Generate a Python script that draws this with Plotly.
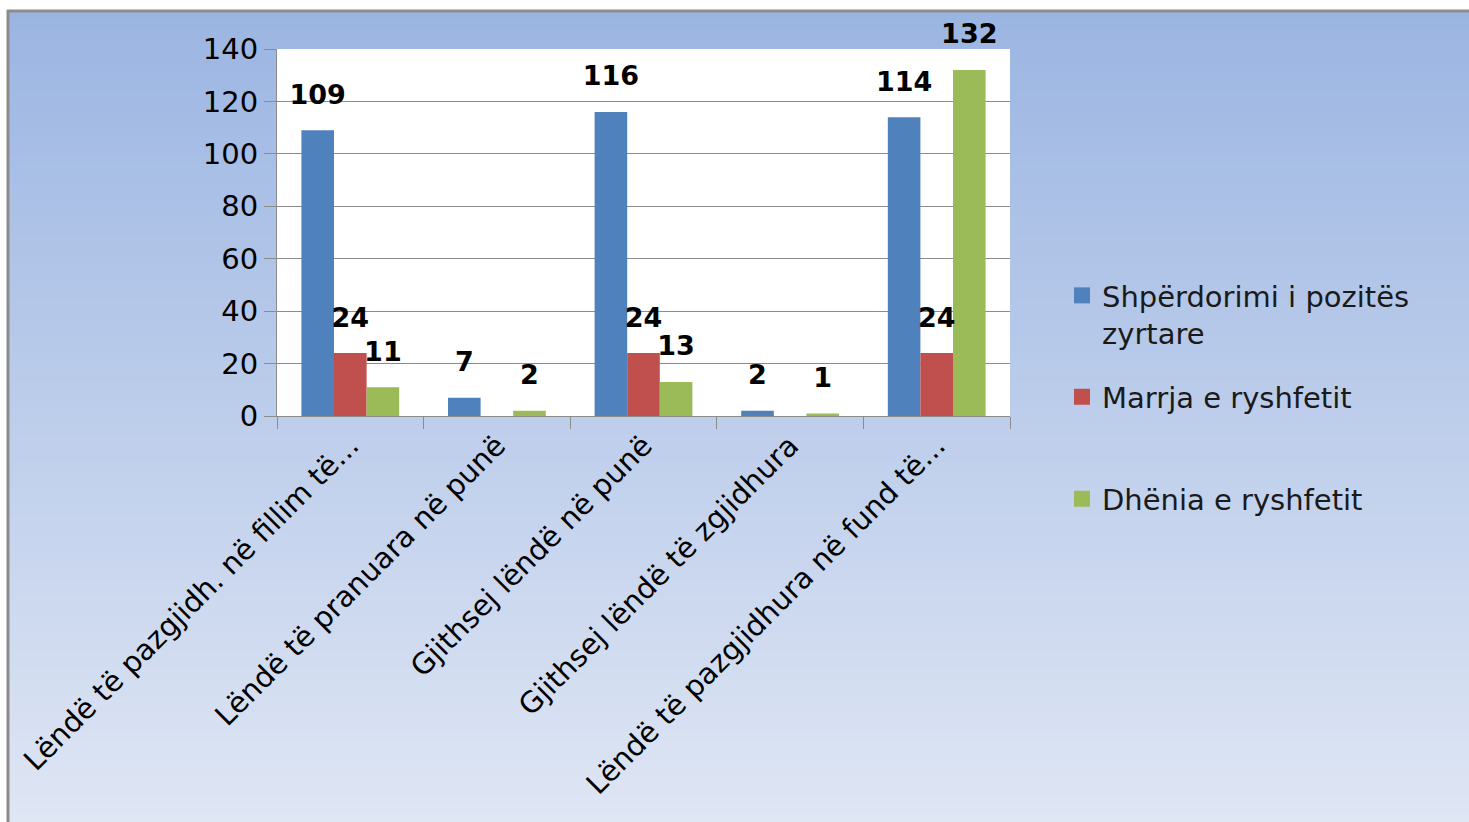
import plotly.graph_objects as go

categories = [
    "Lëndë të pazgjidh. në fillim të...",
    "Lëndë të pranuara në punë",
    "Gjithsej lëndë në punë",
    "Gjithsej lëndë të zgjidhura",
    "Lëndë të pazgjidhura në fund të...",
]
series_names = ["Shpërdorimi i pozitës<br>zyrtare", "Marrja e ryshfetit", "Dhënia e ryshfetit"]
shperdorimi = [109, 7, 116, 2, 114]
marrja = [24, None, 24, None, 24]
dhenia = [11, 2, 13, 1, 132]
y_ticks = [0, 20, 40, 60, 80, 100, 120, 140]

colors = ["#4F81BD", "#C0504D", "#9BBB59"]
W, H = 1469, 822
ML, MR, MT, MB = 277, 459, 49, 406
PW, PH = W - ML - MR, H - MT - MB


def px2x(px):
    return (px - ML) / PW


def py2y(py):
    return (H - MB - py) / PH


FONT = "DejaVu Sans"
BARGAP = 0.333

fig = go.Figure()
series = [shperdorimi, marrja, dhenia]
legends = ["legend", "legend2", "legend3"]
for name, vals, col in zip(series_names, series, colors):
    fig.add_trace(go.Bar(x=categories, y=vals, name=name, marker_color=col,
                         marker_line_width=0, showlegend=False))
for vals in series:
    fig.add_trace(go.Scatter(
        x=categories, y=vals, mode="markers+text", orientation="v",
        text=[None if v is None else str(v) for v in vals],
        textposition="top center",
        textfont=dict(family=FONT, size=27, color="black", weight="bold"),
        marker=dict(size=30, color="rgba(0,0,0,0)"),
        showlegend=False, hoverinfo="skip", cliponaxis=False))
# legend entries (square swatches) on a hidden overlay axis
for name, col, lg in zip(series_names, colors, legends):
    fig.add_trace(go.Scatter(x=[None], y=[None], mode="markers", name=name,
                             marker=dict(symbol="square", size=16, color=col),
                             legend=lg, showlegend=True, xaxis="x2", yaxis="y2"))

shapes = []
# gradient background
top_c = (155, 181, 226)
bot_c = (223, 230, 244)
y0p, y1p = 11, H
n = 90
for i in range(n):
    a = y0p + (y1p - y0p) * i / n
    b = y0p + (y1p - y0p) * (i + 1) / n + 1
    t = (i + 0.5) / n
    c = tuple(round(top_c[k] + (bot_c[k] - top_c[k]) * t) for k in range(3))
    shapes.append(dict(type="rect", xref="paper", yref="paper", layer="below",
                       x0=px2x(9), x1=px2x(W + 5), y0=py2y(a), y1=py2y(b),
                       fillcolor="rgb(%d,%d,%d)" % c, line_width=0))
# frame
shapes.append(dict(type="line", xref="paper", yref="paper", layer="below",
                   x0=px2x(8), x1=px2x(8), y0=py2y(10), y1=py2y(H + 5),
                   line=dict(color="#8C8C8C", width=3)))
shapes.append(dict(type="line", xref="paper", yref="paper", layer="below",
                   x0=px2x(7), x1=px2x(W + 5), y0=py2y(11), y1=py2y(11),
                   line=dict(color="#8C8C8C", width=3)))
# white plot area
shapes.append(dict(type="rect", xref="x domain", yref="y domain", layer="below",
                   x0=0, x1=1, y0=0, y1=1, fillcolor="white", line_width=0))

legend_common = dict(xanchor="left", bgcolor="rgba(0,0,0,0)", borderwidth=0,
                     font=dict(family=FONT, size=29, color="#1a1a1a"),
                     itemsizing="trace", itemwidth=30)

fig.update_layout(
    width=W, height=H,
    margin=dict(l=ML, r=MR, t=MT, b=MB, pad=0),
    paper_bgcolor="white",
    plot_bgcolor="rgba(0,0,0,0)",
    barmode="group", bargap=BARGAP, bargroupgap=0,
    scattermode="group", scattergap=BARGAP,
    shapes=shapes,
    font=dict(family=FONT, color="black"),
    xaxis=dict(tickangle=-45, tickfont=dict(family=FONT, size=29, color="black"),
               showline=True, linecolor="#8C8C8C", linewidth=1,
               ticks="outside", tickson="boundaries", ticklen=12, tickcolor="#8C8C8C",
               showgrid=False, fixedrange=True),
    yaxis=dict(range=[0, 140], tickvals=y_ticks, ticktext=[str(v) for v in y_ticks],
               tickfont=dict(family=FONT, size=29, color="black"),
               showline=True, linecolor="#8C8C8C", linewidth=1,
               ticks="outside", ticklen=12, tickcolor="#8C8C8C",
               showgrid=True, gridcolor="#8C8C8C", gridwidth=1,
               zeroline=False),
    xaxis2=dict(overlaying="x", visible=False),
    yaxis2=dict(overlaying="y", visible=False),
    legend=dict(x=px2x(1062), y=py2y(270), yanchor="top", valign="top", **legend_common),
    legend2=dict(x=px2x(1062), y=py2y(397), yanchor="middle", **legend_common),
    legend3=dict(x=px2x(1062), y=py2y(499), yanchor="middle", **legend_common),
)

fig.write_html("out.html", config={"displayModeBar": False},
               post_script="document.body.style.margin='0';document.body.style.overflow='hidden';")
